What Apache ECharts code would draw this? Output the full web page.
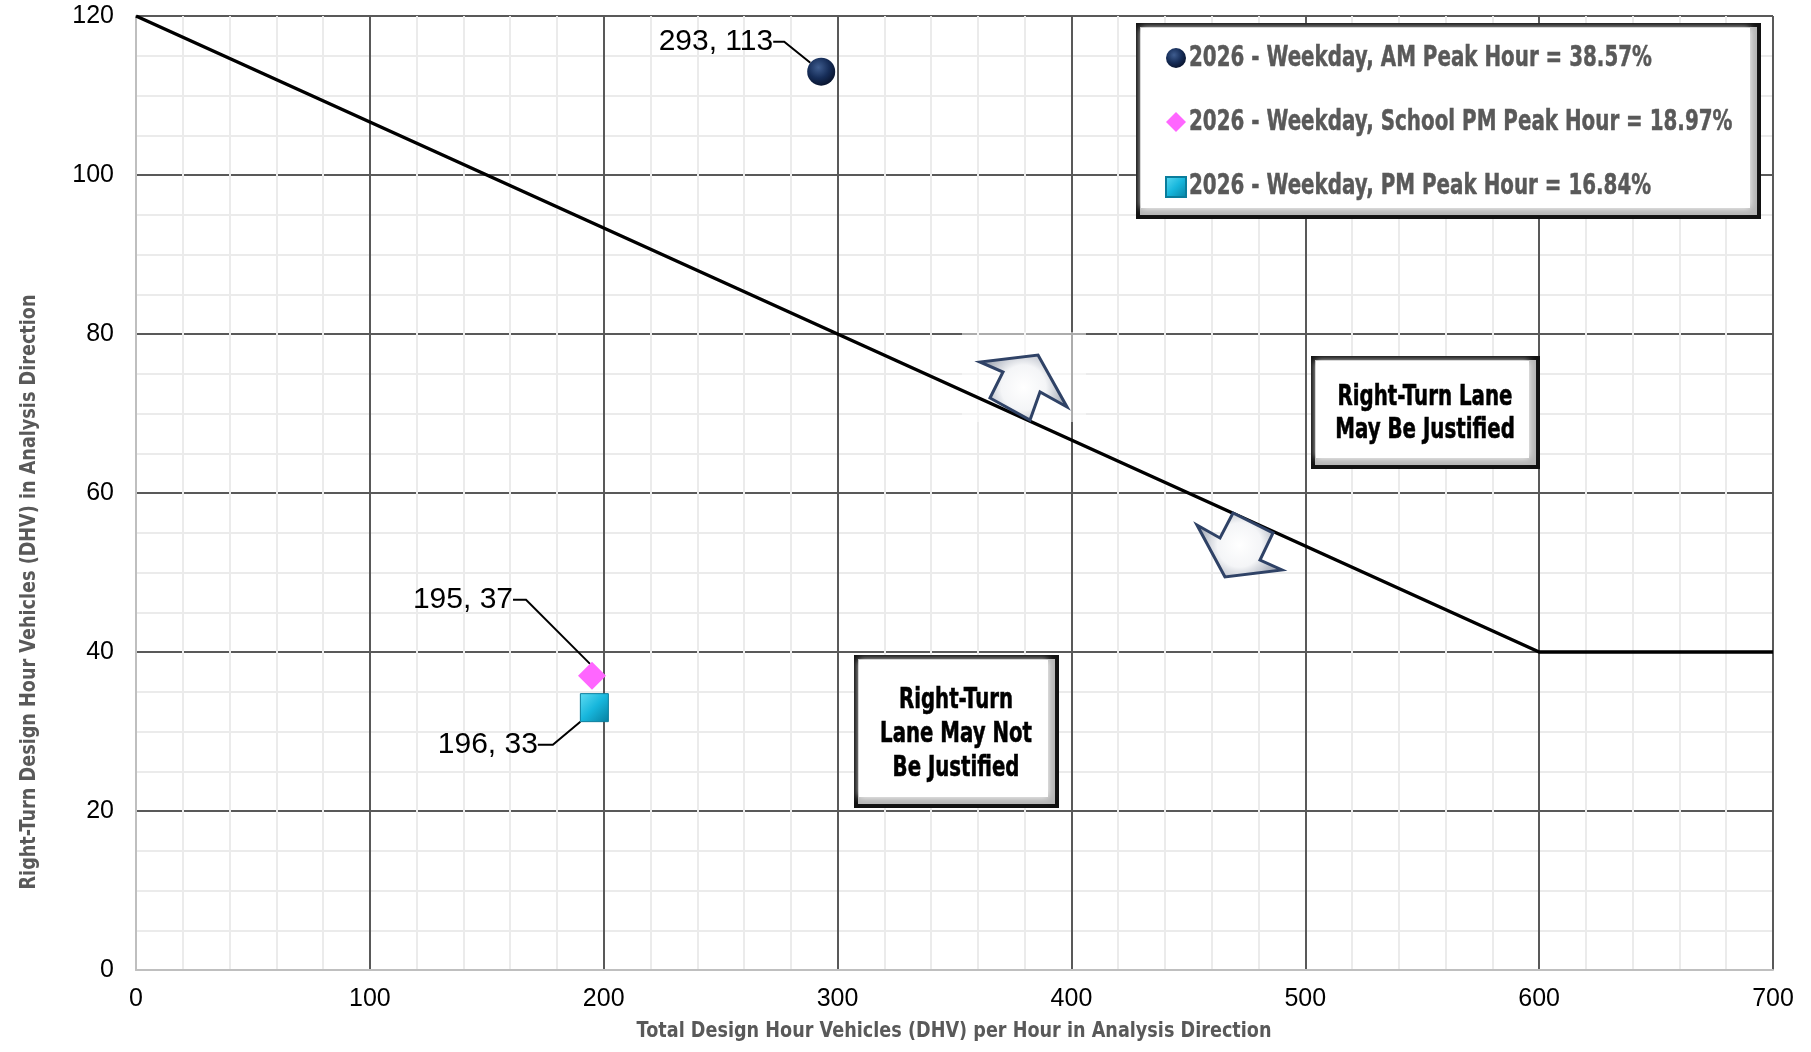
<!DOCTYPE html>
<html>
<head>
<meta charset="utf-8" />
<title>Right-Turn Lane Warrant</title>
<script src="https://cdn.jsdelivr.net/npm/echarts@6/dist/echarts.min.js"></script>
<style>
  html, body { margin: 0; padding: 0; background: #fff; }
  #main { width: 1811px; height: 1052px; }
</style>
</head>
<body>
<div id="main"></div>
<script>
// data
var seriesNames = [
  '2026 - Weekday, AM Peak Hour = 38.57%',
  '2026 - Weekday, School PM Peak Hour = 18.97%',
  '2026 - Weekday, PM Peak Hour = 16.84%'
];
var amPoint = [[293, 113]];
var schoolPoint = [[195, 37]];
var pmPoint = [[196, 33]];
var warrantLine = [[0, 120], [600, 40], [700, 40]];
var xTickLabels = [0, 100, 200, 300, 400, 500, 600, 700];
var yTickLabels = [0, 20, 40, 60, 80, 100, 120];

// no condensed face is installed, so bold text gets squeezed horizontally
var boldFont = "'DejaVu Sans', sans-serif";
var plainFont = "'Liberation Sans', Arial, sans-serif";

var measureCtx = document.createElement('canvas').getContext('2d');
function squeeze(text, size, width) {
  measureCtx.font = 'bold ' + size + 'px ' + boldFont;
  return width / measureCtx.measureText(text).width;
}

function pairLabel(p) { return p.value[0] + ', ' + p.value[1]; }

// framed box with a soft bevel
function bevelBox(x, y, w, h, z) {
  return [{
    type: 'rect', z: z,
    shape: { x: x, y: y, width: w, height: h },
    style: { fill: '#b5b5b5', stroke: '#111', lineWidth: 4 }
  }, {
    type: 'rect', z: z,
    shape: { x: x + 3, y: y + 3, width: w - 12, height: h - 12 },
    style: { fill: '#fff', shadowBlur: 7, shadowColor: '#fff' }
  }];
}

function boxText(lines, x, y, lineGap, width, z) {
  var sx = squeeze(lines[0], 29, width);
  return lines.map(function (t, i) {
    return {
      type: 'text', z: z, x: x, y: y + i * lineGap, scaleX: sx,
      style: {
        text: t, x: 0, y: 0, align: 'center', verticalAlign: 'middle',
        fontFamily: boldFont, fontWeight: 'bold', fontSize: 29, fill: '#000',
        stroke: '#000', lineWidth: 0.6
      }
    };
  });
}

var legendRows = [58, 122, 186];
var legendScale = squeeze(seriesNames[0], 29, 463);
var legendTexts = seriesNames.map(function (name, i) {
  return {
    type: 'text', z: 12, x: 1189, y: legendRows[i], scaleX: legendScale,
    style: {
      text: name, x: 0, y: 0, align: 'left', verticalAlign: 'middle',
      fontFamily: boldFont, fontWeight: 'bold', fontSize: 29, fill: '#595959',
      stroke: '#595959', lineWidth: 0.5
    }
  };
});

var xTitle = 'Total Design Hour Vehicles (DHV) per Hour in Analysis Direction';
var yTitle = 'Right-Turn Design Hour Vehicles (DHV) in Analysis Direction';

var arrowFill = {
  type: 'radial', x: 0.5, y: 0.5, r: 0.6,
  colorStops: [{ offset: 0, color: '#ffffff' }, { offset: 0.55, color: '#f4f5f7' }, { offset: 1, color: '#aab0bc' }]
};

var graphics = []
  .concat([{
    type: 'rect', z: 1,
    shape: { x: 962, y: 332, width: 124, height: 90 },
    style: { fill: 'rgba(255,255,255,0.5)' }
  }])
  .concat(bevelBox(1138, 25, 621, 192, 5))
  .concat(legendTexts)
  .concat(bevelBox(856, 657, 201, 149, 5))
  .concat(boxText(['Right-Turn', 'Lane May Not', 'Be Justified'], 956, 700, 34, 114, 6))
  .concat(bevelBox(1313, 358, 225, 109, 5))
  .concat(boxText(['Right-Turn Lane', 'May Be Justified'], 1425, 397, 33, 175, 6))
  .concat([{
    type: 'polygon', z: 4,
    shape: { points: [[1038, 355], [1067, 407], [1040, 392], [1030, 420], [990, 398], [1003, 372], [980, 362]] },
    style: { fill: arrowFill, stroke: '#2f4266', lineWidth: 3 }
  }, {
    type: 'polygon', z: 4,
    shape: { points: [[1225, 577], [1197, 525], [1220, 538], [1233, 513], [1273, 533], [1260, 560], [1282, 570]] },
    style: { fill: arrowFill, stroke: '#2f4266', lineWidth: 3 }
  }, {
    type: 'text', z: 6,
    x: 30, y: 592, rotation: Math.PI / 2, scaleX: squeeze(yTitle, 21, 595),
    style: {
      text: yTitle, x: 0, y: 0, align: 'center', verticalAlign: 'middle',
      fontFamily: boldFont, fontWeight: 'bold', fontSize: 21, fill: '#595959'
    }
  }, {
    type: 'text', z: 6,
    x: 954, y: 1032, scaleX: squeeze(xTitle, 21, 635),
    style: {
      text: xTitle, x: 0, y: 0, align: 'center', verticalAlign: 'middle',
      fontFamily: boldFont, fontWeight: 'bold', fontSize: 21, fill: '#595959'
    }
  }]);

var chart = echarts.init(document.getElementById('main'));

var option = {
  animation: false,
  backgroundColor: '#fff',
  grid: { left: 136, right: 38, top: 16, bottom: 82 },
  legend: {
    orient: 'vertical',
    left: 1165, top: 48,
    padding: 0,
    itemGap: 44,
    itemWidth: 20, itemHeight: 20,
    z: 10,
    formatter: function () { return ''; },
    data: seriesNames
  },
  xAxis: {
    type: 'value',
    min: xTickLabels[0], max: xTickLabels[xTickLabels.length - 1],
    interval: xTickLabels[1] - xTickLabels[0],
    axisLine: { lineStyle: { color: '#bfbfbf', width: 2 } },
    axisTick: { show: false },
    axisLabel: { fontFamily: plainFont, fontSize: 25, color: '#000', margin: 17 },
    splitLine: { show: true, showMinLine: false, lineStyle: { color: '#595959', width: 2 } },
    minorTick: { show: false, splitNumber: 5 },
    minorSplitLine: { show: true, lineStyle: { color: '#ebebeb', width: 2 } }
  },
  yAxis: {
    type: 'value',
    min: yTickLabels[0], max: yTickLabels[yTickLabels.length - 1],
    interval: yTickLabels[1] - yTickLabels[0],
    axisLine: { show: true, lineStyle: { color: '#bfbfbf', width: 2 } },
    axisTick: { show: false },
    axisLabel: { fontFamily: plainFont, fontSize: 25, color: '#000', margin: 22 },
    splitLine: { show: true, showMinLine: false, lineStyle: { color: '#595959', width: 2 } },
    minorTick: { show: false, splitNumber: 4 },
    minorSplitLine: { show: true, lineStyle: { color: '#ebebeb', width: 2 } }
  },
  graphic: graphics,
  series: [{
    type: 'line',
    data: warrantLine,
    symbol: 'none',
    silent: true,
    z: 2,
    lineStyle: { color: '#000', width: 3.5 }
  }, {
    name: seriesNames[0],
    type: 'scatter',
    data: amPoint,
    symbol: 'circle',
    symbolSize: 28,
    z: 3,
    itemStyle: {
      opacity: 1,
      color: {
        type: 'radial', x: 0.4, y: 0.35, r: 0.7,
        colorStops: [{ offset: 0, color: '#3f5d8f' }, { offset: 0.55, color: '#162d58' }, { offset: 1, color: '#08122a' }]
      }
    },
    label: { show: true, position: 'left', distance: 5, formatter: pairLabel, fontFamily: plainFont, fontSize: 30, color: '#000' },
    labelLine: { show: true, length2: 11, lineStyle: { color: '#000', width: 2 } },
    labelLayout: { dx: -29, dy: -30 }
  }, {
    name: seriesNames[1],
    type: 'scatter',
    data: schoolPoint,
    symbol: 'diamond',
    symbolSize: 28,
    z: 3,
    itemStyle: { opacity: 1, color: '#ff66ff' },
    label: { show: true, position: 'left', distance: 5, formatter: pairLabel, fontFamily: plainFont, fontSize: 30, color: '#000' },
    labelLine: { show: true, length2: 13, lineStyle: { color: '#000', width: 2 } },
    labelLayout: { dx: -60, dy: -76 }
  }, {
    name: seriesNames[2],
    type: 'scatter',
    data: pmPoint,
    symbol: 'rect',
    symbolSize: 28,
    z: 3,
    itemStyle: {
      opacity: 1,
      color: {
        type: 'linear', x: 0, y: 0, x2: 1, y2: 1,
        colorStops: [{ offset: 0, color: '#5fdcf3' }, { offset: 0.5, color: '#17b6dc' }, { offset: 1, color: '#077f9f' }]
      },
      borderColor: '#0a7d9c', borderWidth: 1
    },
    label: { show: true, position: 'left', distance: 5, formatter: pairLabel, fontFamily: plainFont, fontSize: 30, color: '#000' },
    labelLine: { show: true, length2: 15, lineStyle: { color: '#000', width: 2 } },
    labelLayout: { dx: -37, dy: 37 }
  }]
};

chart.setOption(option);
</script>
</body>
</html>
